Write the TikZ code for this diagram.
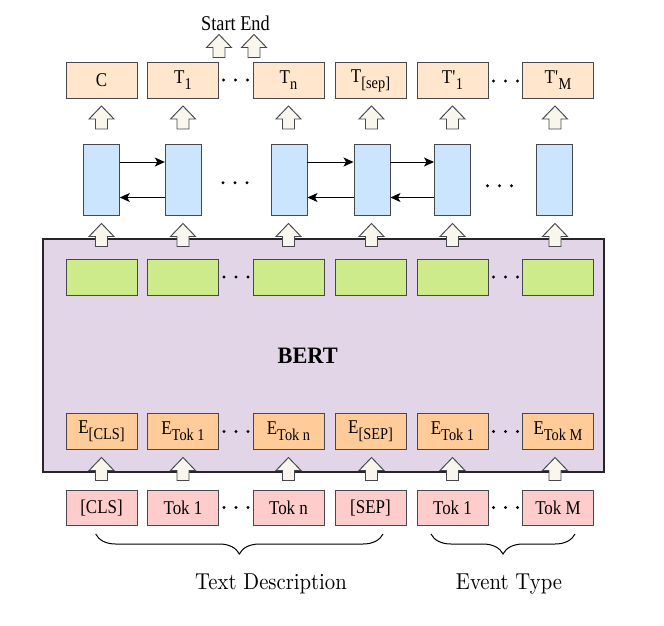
\documentclass[tikz,border=0pt]{standalone}
\usepackage{fontspec}
\newfontfamily\tnr{Liberation Serif}[FakeStretch=0.87]
\newfontfamily\tnrb{Liberation Serif}[FakeStretch=0.95]
\usetikzlibrary{arrows.meta,decorations.pathreplacing}
\definecolor{strokec}{HTML}{45484C}
\definecolor{topc}{HTML}{FFE6CC}
\definecolor{bluec}{HTML}{CCE5FF}
\definecolor{greenc}{HTML}{CDEB8B}
\definecolor{embc}{HTML}{FFCC99}
\definecolor{tokc}{HTML}{FFCCCC}
\definecolor{bertc}{HTML}{E1D5E7}
\definecolor{arrfill}{HTML}{F9F7ED}
\newcommand\sbs[1]{\raisebox{-0.3em}{\fontsize{16.5}{16.5}\selectfont #1}}
\tikzset{
  box/.style={draw=strokec, line width=0.95pt, minimum width=71pt, minimum height=35.5pt, inner sep=0pt, font=\tnr\fontsize{19.5}{19.5}\selectfont},
  topbox/.style={box, fill=topc},
  bluebox/.style={box, fill=bluec, minimum width=36pt, minimum height=71pt},
  greenbox/.style={box, fill=greenc, minimum height=36pt},
  embbox/.style={box, fill=embc},
  tokbox/.style={box, fill=tokc},
  bertbox/.style={draw=black!85, line width=1.2pt, fill=bertc, inner sep=0pt},
  link/.style={line width=1pt, -{Stealth[length=10pt,width=9pt,inset=2.5pt]}},
  blockup/.pic={\draw[draw=strokec, line width=0.95pt, fill=arrfill, line join=miter]
    (0,-11.5) -- (12.5,1.5) -- (6,1.5) -- (6,11.5) -- (-6,11.5) -- (-6,1.5) -- (-12.5,1.5) -- cycle;},
  dots/.pic={\fill (-12,0) circle (1.7) (0,0) circle (1.7) (12,0) circle (1.7);},
  lab/.style={inner sep=0pt, anchor=base},
  brc/.style={line width=1pt, decorate, decoration={brace, mirror, amplitude=20pt}}
}
\begin{document}
\begin{tikzpicture}[x=1pt,y=-1pt]
\useasboundingbox (0,0) rectangle (664,625);
% BERT container
\node[bertbox, minimum width=561pt, minimum height=233pt] (bert) at (323.5,355.5) {};
\node[font=\tnrb\bfseries\fontsize{23.5}{23.5}\selectfont, inner sep=0pt] (bertlab) at (307.7,356) {BERT};
% top row
\node[topbox] (t1) at (101.5,80.5) {C};
\node[topbox] (t2) at (183,80.5) {T\sbs{1}};
\node[topbox] (t3) at (288.5,80.5) {T\sbs{n}};
\node[topbox] (t4) at (370.5,80.5) {T\sbs{[sep]}};
\node[topbox] (t5) at (452.5,80.5) {T\textquotesingle\sbs{1}};
\node[topbox] (t6) at (558,80.5) {T\textquotesingle\sbs{M}};
% blue row
\node[bluebox] (b1) at (101.3,179.5) {};
\node[bluebox] (b2) at (183.3,179.5) {};
\node[bluebox] (b3) at (289,179.5) {};
\node[bluebox] (b4) at (372,179.5) {};
\node[bluebox] (b5) at (452.5,179.5) {};
\node[bluebox] (b6) at (554,179.5) {};
\draw[link] ([yshift=17.5pt]b1.east) -- ([yshift=17.5pt]b2.west);
\draw[link] ([yshift=-18pt]b2.west) -- ([yshift=-18pt]b1.east);
\draw[link] ([yshift=17.5pt]b3.east) -- ([yshift=17.5pt]b4.west);
\draw[link] ([yshift=-18pt]b4.west) -- ([yshift=-18pt]b3.east);
\draw[link] ([yshift=17.5pt]b4.east) -- ([yshift=17.5pt]b5.west);
\draw[link] ([yshift=-18pt]b5.west) -- ([yshift=-18pt]b4.east);
% green row
\node[greenbox] (g1) at (101.5,277) {};
\node[greenbox] (g2) at (183,277) {};
\node[greenbox] (g3) at (288.5,277) {};
\node[greenbox] (g4) at (370.5,277) {};
\node[greenbox] (g5) at (452.5,277) {};
\node[greenbox] (g6) at (558,277) {};
% embedding row
\node[embbox] (e1) at (101.5,431.5) {E\sbs{[CLS]}};
\node[embbox] (e2) at (183,431.5) {E\sbs{Tok 1}};
\node[embbox] (e3) at (288.5,431.5) {E\sbs{Tok n}};
\node[embbox] (e4) at (370.5,431.5) {E\sbs{[SEP]}};
\node[embbox] (e5) at (452.5,431.5) {E\sbs{Tok 1}};
\node[embbox] (e6) at (558,431.5) {E\sbs{Tok M}};
% token row
\node[tokbox] (k1) at (101.5,508) {[CLS]};
\node[tokbox] (k2) at (183,508) {Tok 1};
\node[tokbox] (k3) at (288.5,508) {Tok n};
\node[tokbox] (k4) at (370.5,508) {[SEP]};
\node[tokbox] (k5) at (452.5,508) {Tok 1};
\node[tokbox] (k6) at (558,508) {Tok M};
% block arrows
\foreach \x in {101.5,183,288.5,371.5,452.5,555}{
  \pic at (\x,117.5) {blockup};
  \pic at (\x,235) {blockup};
  \pic at (\x,469) {blockup};
}
\pic at (219,46) {blockup};
\pic at (254,46) {blockup};
\node[lab, font=\tnr\fontsize{21}{21}\selectfont] (start) at (218.5,30.5) {Start};
\node[lab, font=\tnr\fontsize{21}{21}\selectfont] (end) at (255,30.5) {End};
% dots
\pic at (235.5,80) {dots};
\pic at (505.5,81) {dots};
\pic at (235,182.7) {dots};
\pic at (499.5,185.7) {dots};
\pic at (236,277) {dots};
\pic at (505.5,277) {dots};
\pic at (236,431.5) {dots};
\pic at (505.5,431.5) {dots};
\pic at (236,507.5) {dots};
\pic at (505.5,507.5) {dots};
% braces
\coordinate (br1a) at (95.7,534);
\coordinate (br1b) at (383,534);
\coordinate (br2a) at (431,534);
\coordinate (br2b) at (575,534);
\draw[brc] (br1a) -- (br1b);
\draw[brc] (br2a) -- (br2b);
\node[lab] (tdesc) at (271,589) {\scalebox{2.07}[2.3]{\fontsize{10}{10}\selectfont Text Description}};
\node[lab] (etype) at (509,589) {\scalebox{2.07}[2.3]{\fontsize{10}{10}\selectfont Event Type}};
\end{tikzpicture}
\end{document}
